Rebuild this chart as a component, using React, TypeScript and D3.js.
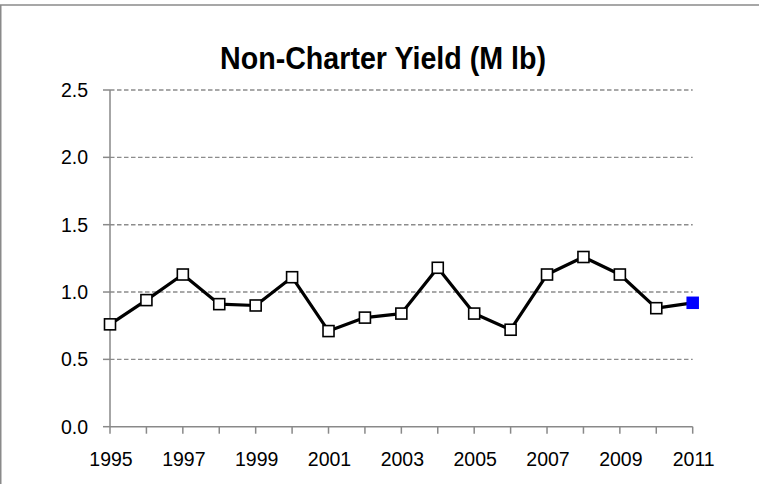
import React, { useEffect, useRef } from 'react'
import * as d3 from 'd3'

const width = 759
const height = 484

const years = [1995, 1996, 1997, 1998, 1999, 2000, 2001, 2002, 2003, 2004, 2005, 2006, 2007, 2008, 2009, 2010, 2011]
const yieldValues = [0.76, 0.94, 1.13, 0.91, 0.9, 1.11, 0.71, 0.81, 0.84, 1.18, 0.84, 0.72, 1.13, 1.26, 1.13, 0.88, 0.92]
const yTicks = [0, 0.5, 1.0, 1.5, 2.0, 2.5]
const xTickLabels = [1995, 1997, 1999, 2001, 2003, 2005, 2007, 2009, 2011]

const styles = {
  font: '"Liberation Sans", Arial, sans-serif',
  axis: '#898989',
  grid: '#8c8c8c',
  marker: { fill: '#ffffff', stroke: '#000000' },
  lastMarker: '#0000ff',
}

const plot = { left: 110, right: 692.7, top: 90, bottom: 426.7 }

function drawChart(node: SVGSVGElement) {
  const svg = d3.select(node)
  svg.selectAll('*').remove()

  const x = d3.scaleLinear().domain([1995, 2011]).range([plot.left, plot.right])
  const y = d3.scaleLinear().domain([0, 2.5]).range([plot.bottom, plot.top])

  // chart border (only top and left show in the picture)
  svg
    .append('rect')
    .attr('x', 0.75)
    .attr('y', 5)
    .attr('width', width + 10)
    .attr('height', height + 10)
    .style('fill', 'white')
    .style('stroke', '#8a8a8a')
    .style('stroke-width', 1.5)

  svg
    .append('text')
    .attr('x', 383)
    .attr('y', 69)
    .attr('text-anchor', 'middle')
    .attr('textLength', 326)
    .attr('lengthAdjust', 'spacingAndGlyphs')
    .style('font-family', styles.font)
    .style('font-weight', 'bold')
    .style('font-size', '31px')
    .text('Non-Charter Yield (M lb)')

  // gridlines
  svg
    .append('g')
    .selectAll('line')
    .data(yTicks.filter(d => d > 0))
    .enter()
    .append('line')
    .attr('x1', plot.left)
    .attr('x2', plot.right)
    .attr('y1', d => y(d))
    .attr('y2', d => y(d))
    .style('stroke', styles.grid)
    .style('stroke-width', 1.4)
    .style('stroke-dasharray', '4.5,2.5')

  // y axis
  const yAxis = svg.append('g')
  yAxis
    .append('line')
    .attr('x1', plot.left)
    .attr('x2', plot.left)
    .attr('y1', plot.top)
    .attr('y2', plot.bottom)
    .style('stroke', styles.axis)
    .style('stroke-width', 1.5)
  yAxis
    .selectAll('.ytick')
    .data(yTicks)
    .enter()
    .append('line')
    .attr('x1', plot.left - 7)
    .attr('x2', plot.left)
    .attr('y1', d => y(d))
    .attr('y2', d => y(d))
    .style('stroke', styles.axis)
    .style('stroke-width', 1.5)
  yAxis
    .selectAll('text')
    .data(yTicks)
    .enter()
    .append('text')
    .attr('x', 88)
    .attr('y', d => y(d))
    .attr('dy', '0.36em')
    .attr('text-anchor', 'end')
    .style('font-family', styles.font)
    .style('font-size', '19.5px')
    .text(d => d3.format('.1f')(d))

  // x axis
  const xAxis = svg.append('g')
  xAxis
    .append('line')
    .attr('x1', plot.left)
    .attr('x2', plot.right)
    .attr('y1', plot.bottom)
    .attr('y2', plot.bottom)
    .style('stroke', styles.axis)
    .style('stroke-width', 1.5)
  xAxis
    .selectAll('.xtick')
    .data(years)
    .enter()
    .append('line')
    .attr('x1', d => x(d))
    .attr('x2', d => x(d))
    .attr('y1', plot.bottom)
    .attr('y2', plot.bottom + 7)
    .style('stroke', styles.axis)
    .style('stroke-width', 1.5)
  xAxis
    .selectAll('text')
    .data(xTickLabels)
    .enter()
    .append('text')
    .attr('x', d => x(d) + 1)
    .attr('y', 466)
    .attr('text-anchor', 'middle')
    .style('font-family', styles.font)
    .style('font-size', '19.5px')
    .text(d => String(d))

  const data = years.map((yr, i) => ({ year: yr, value: yieldValues[i] }))

  const line = d3
    .line<{ year: number; value: number }>()
    .x(d => x(d.year))
    .y(d => y(d.value))

  svg
    .append('path')
    .datum(data)
    .attr('d', line)
    .style('fill', 'none')
    .style('stroke', 'black')
    .style('stroke-width', 3.2)
    .style('stroke-linejoin', 'round')

  const m = 11
  svg
    .append('g')
    .selectAll('rect')
    .data(data)
    .enter()
    .append('rect')
    .attr('x', d => x(d.year) - m / 2)
    .attr('y', d => y(d.value) - m / 2)
    .attr('width', m)
    .attr('height', m)
    .style('fill', (d, i) => (i === data.length - 1 ? styles.lastMarker : styles.marker.fill))
    .style('stroke', (d, i) => (i === data.length - 1 ? styles.lastMarker : styles.marker.stroke))
    .style('stroke-width', (d, i) => (i === data.length - 1 ? 1.5 : 1.6))
}

export default function App() {
  const ref = useRef<SVGSVGElement>(null)

  useEffect(() => {
    if (ref.current) drawChart(ref.current)
  }, [])

  return (
    <svg
      ref={ref}
      width={width}
      height={height}
      style={{ position: 'absolute', left: 0, top: 0, background: 'white' }}
    />
  )
}
